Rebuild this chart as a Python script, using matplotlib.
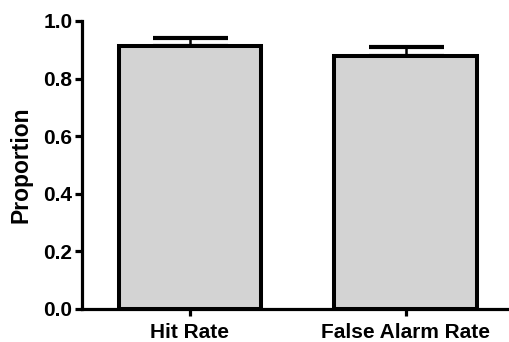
import matplotlib
matplotlib.use("Agg")
import matplotlib.pyplot as plt

categories = ["Hit Rate", "False Alarm Rate"]
values = [0.913, 0.878]
errors = [0.027, 0.030]
yticks = [0.0, 0.2, 0.4, 0.6, 0.8, 1.0]

plt.rcParams['font.family'] = ['Liberation Sans', 'DejaVu Sans']
plt.rcParams['font.weight'] = 'bold'

W, H = 509, 342
fig = plt.figure(figsize=(W/100, H/100), dpi=100)
ax = fig.add_axes([82/W, (H-309)/H, (W-82)/W, (309-21)/H])

x = list(range(len(categories)))
ax.bar(x, values, width=0.662, color='#d3d3d3', edgecolor='black', linewidth=2.9, zorder=2)
ax.errorbar(x, values, yerr=[[0]*len(errors), errors], fmt='none', ecolor='black',
            elinewidth=1.8, capsize=27, capthick=3.0, zorder=1)

ax.set_xlim(-0.5, 1.477)
ax.set_ylim(0, 1.0)
ax.set_yticks(yticks)
ax.set_yticklabels([f"{t:.1f}" for t in yticks])
ax.set_xticks(x)
ax.set_xticklabels(categories)
ax.set_ylabel("Proportion", fontsize=16.5, fontweight='bold', labelpad=8)
for s in ['top', 'right']:
    ax.spines[s].set_visible(False)
for s in ['left', 'bottom']:
    ax.spines[s].set_linewidth(2.3)
ax.tick_params(axis='both', width=2.3, length=5, labelsize=15, pad=2)
ax.tick_params(axis='x', pad=5)
for lab in ax.get_xticklabels() + ax.get_yticklabels():
    lab.set_fontweight('bold')

fig.savefig("out.png", dpi=100)
